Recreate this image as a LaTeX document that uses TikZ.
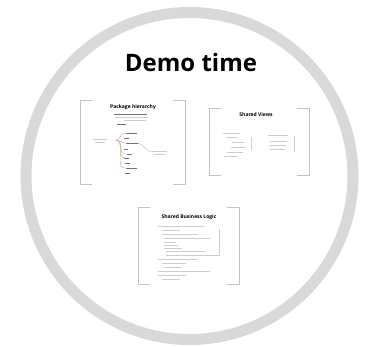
\documentclass[tikz,border=0pt]{standalone}
\usepackage{fontspec}
\setmainfont{Open Sans}
\usetikzlibrary{positioning}
\definecolor{ringgray}{HTML}{D9D9D9}
\definecolor{framegray}{HTML}{C4C4C4}
\definecolor{linegray}{HTML}{CDCDCD}
\definecolor{treered}{HTML}{E8A0A8}
\definecolor{treegreen}{HTML}{A8D8A8}

\begin{document}
\begin{tikzpicture}
	[%
	x=1pt, y=-1pt,%
	ring/.style      ={circle,	draw=ringgray,	line width=11pt,	inner sep=0pt,	minimum size=327pt},%
	bracket/.style   ={draw=framegray,	line width=0.6pt},%
	thumbtitle/.style={font=\bfseries\fontsize{5}{6}\selectfont,	inner sep=0pt},%
	textline/.style  ={draw=linegray,	line width=0.8pt},%
	darkline/.style  ={draw=black!55,	line width=0.8pt},%
	]

	\newcommand{\tick}{12}

	\useasboundingbox (0,0) rectangle (366,347);
	\fill [white] (0,0) rectangle (366,347);

	% frame
	\node (ring) at (189.5,176) [ring] {};
	\node (title) at (191,62.5) {\fontsize{24}{28}\selectfont\bfseries Demo time};

	% thumbnails
	\coordinate (pkg-nw)   at (80,100);  \coordinate (pkg-se)   at (185,184);
	\coordinate (views-nw) at (209,108); \coordinate (views-se) at (309,175);
	\coordinate (logic-nw) at (138,207); \coordinate (logic-se) at (239,284);

	\foreach \f in {pkg,views,logic}{%
		\draw [bracket] ([xshift=\tick pt]\f-nw) -- (\f-nw) -- (\f-nw |- \f-se) -- ++(\tick,0);
		\draw [bracket] ([xshift=-\tick pt]\f-nw -| \f-se) -- (\f-nw -| \f-se) -- (\f-se) -- ++(-\tick,0);
	}

	\node (pkgtitle)   at (133,107) [thumbtitle] {Package hierarchy};
	\node (viewstitle) at (256,115) [thumbtitle] {Shared Views};
	\node (logictitle) at (189,217) [thumbtitle] {Shared Business Logic};

	% package hierarchy content
	\draw [darkline] (114,114) -- (147,114);
	\foreach \y/\a/\b in {117/116/148, 120/124/146}%
		\draw [textline] (\a,\y) -- (\b,\y);
	\foreach \y/\a/\b in {124/117/126, 133/126/137, 138/124/129, 143/126/139, 149/124/128, 154/127/132, 158/124/129, 163/125/130, 168/126/137, 173/125/130}%
		\draw [darkline, line width=0.6pt] (\a,\y) -- (\b,\y);
	\foreach \y in {133,143,154,168}%
		\draw [treered, line width=0.5pt] (116,140) to [out=0, in=180] (125,\y);
	\draw [treegreen, line width=0.5pt] (116,140) to [out=0, in=180] (125,158);
	\draw [treered, line width=0.4pt] (137,143) to [out=0, in=180] (152,152);
	\foreach \y/\a/\b in {139/93/107, 142/95/105, 151/152/167, 154/154/165}%
		\draw [textline, line width=0.5pt] (\a,\y) -- (\b,\y);

	% shared views content
	\foreach \y/\a/\b in {133/223/240, 137/226/237, 142/232/244, 147/231/246, 152/227/243, 156/224/238, 135/268/288, 141/270/287, 145/269/286, 149/270/285}%
		\draw [textline] (\a,\y) -- (\b,\y);
	\draw [textline] (251,137) -- (251,150);
	\draw [textline] (294,136) -- (294,152);

	% shared business logic content
	\foreach \y/\a/\b in {226/158/204, 230/162/180, 234/162/198, 238/164/210, 242/164/176, 245/164/178, 248/164/182, 251/166/205, 255/166/220, 259/158/198, 263/162/186, 267/164/182, 271/158/210, 275/158/186, 279/162/180}%
		\draw [textline] (\a,\y) -- (\b,\y);
	\draw [textline] (219,229) -- (219,256);

\end{tikzpicture}
\end{document}
